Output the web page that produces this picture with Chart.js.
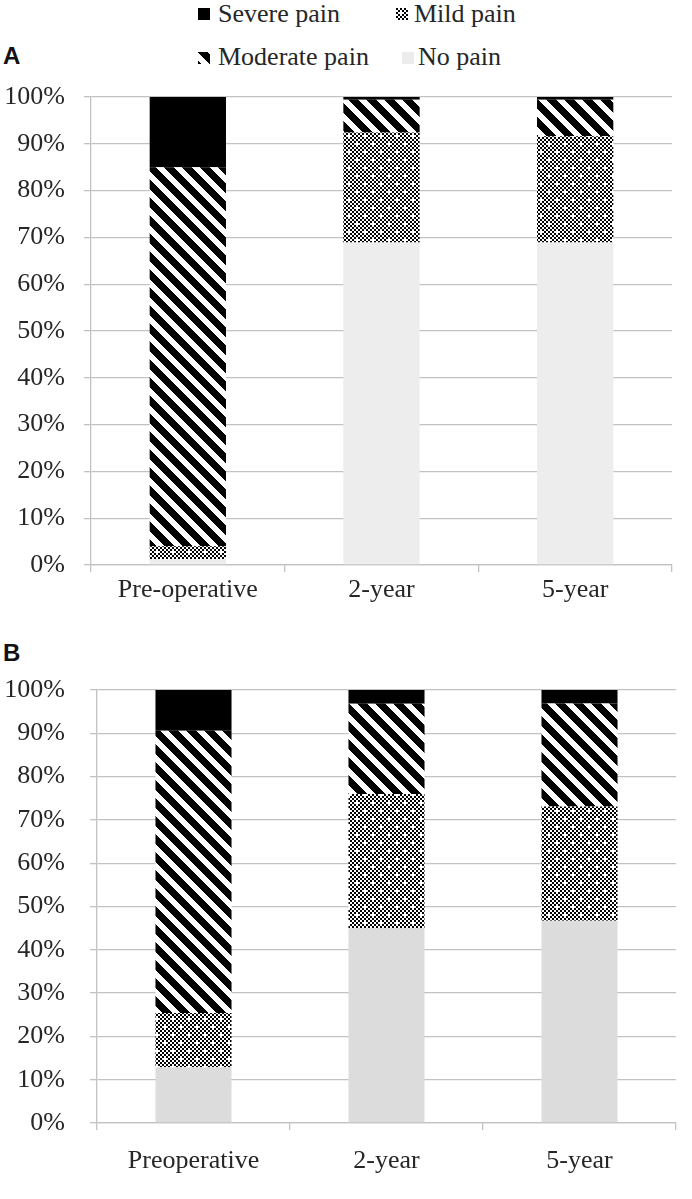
<!DOCTYPE html>
<html>
<head>
<meta charset="utf-8">
<script src="https://cdn.jsdelivr.net/npm/chart.js@4.4.1/dist/chart.umd.min.js"></script>
<style>
  body { margin: 0; background: #fff; }
  #page { position: relative; width: 692px; height: 1199px; overflow: hidden; font-family: "Liberation Serif", serif; color: #262626; }
  .panel { position: absolute; left: 3px; font: bold 24px/24px "Liberation Sans", Arial, sans-serif; color: #111; }
  .lg { position: absolute; font-size: 26px; line-height: 28px; white-space: nowrap; }
  .sw { position: absolute; width: 12px; height: 12px; }
  canvas.chart { position: absolute; left: 0; }
</style>
</head>
<body>
<div id="page">
  <canvas class="sw" id="swSevere" width="12" height="12" style="left:198px;top:8px"></canvas>
  <div class="lg" style="left:218px;top:0px">Severe pain</div>
  <canvas class="sw" id="swMild" width="12" height="12" style="left:396px;top:8px"></canvas>
  <div class="lg" style="left:414px;top:0px">Mild pain</div>
  <canvas class="sw" id="swModerate" width="12" height="12" style="left:198px;top:52px"></canvas>
  <div class="lg" style="left:218px;top:43px">Moderate pain</div>
  <canvas class="sw" id="swNone" width="12" height="12" style="left:402px;top:52px"></canvas>
  <div class="lg" style="left:418px;top:43px">No pain</div>

  <div class="panel" style="top:44px">A</div>
  <canvas class="chart" id="chartA" width="692" height="545" style="top:75px"></canvas>

  <div class="panel" style="top:641px">B</div>
  <canvas class="chart" id="chartB" width="692" height="529" style="top:670px"></canvas>
</div>

<script>
// data (percent of patients)
const categoriesA = ["Pre-operative", "2-year", "5-year"];
const categoriesB = ["Preoperative", "2-year", "5-year"];
const seriesNames = ["No pain", "Mild pain", "Moderate pain", "Severe pain"];

const noPainA = [1.3, 68.9, 68.9];
const mildA = [2.7, 23.5, 22.7];
const moderateA = [81.0, 7.0, 7.8];
const severeA = [15.0, 0.6, 0.6];

const noPainB = [12.9, 45.0, 46.7];
const mildB = [12.5, 31.0, 26.4];
const moderateB = [65.2, 20.8, 23.8];
const severeB = [9.4, 3.2, 3.1];

const yTicks = [0, 10, 20, 30, 40, 50, 60, 70, 80, 90, 100];

// fill patterns like the old excel hatch fills
function makeTile(size, isBlack) {
  const c = document.createElement("canvas");
  c.width = size;
  c.height = size;
  const g = c.getContext("2d");
  g.fillStyle = "#fff";
  g.fillRect(0, 0, size, size);
  g.fillStyle = "#000";
  for (let y = 0; y < size; y++) {
    for (let x = 0; x < size; x++) {
      if (isBlack(x, y)) g.fillRect(x, y, 1, 1);
    }
  }
  return c;
}

const stripeTile = makeTile(18, (x, y) => ((x - y) % 18 + 18) % 18 < 10);
const checkTile = makeTile(16, (x, y) => {
  const cx = x >> 1, cy = y >> 1;
  if ((cx === 2 && cy === 2) || (cx === 6 && cy === 6)) return false;
  return (cx + cy) % 2 === 0;
});

function patternFor(ctx, tile) {
  return ctx.createPattern(tile, "repeat");
}

// legend swatches
function paintSwatch(id, fill) {
  const g = document.getElementById(id).getContext("2d");
  g.fillStyle = typeof fill === "string" ? fill : g.createPattern(fill, "repeat");
  g.fillRect(0, 0, 12, 12);
}
paintSwatch("swSevere", "#000");
paintSwatch("swMild", checkTile);
paintSwatch("swModerate", stripeTile);
paintSwatch("swNone", "#ececec");

const tickFont = { family: "'Liberation Serif', serif", size: 26 };
const gridColor = "#c2c2c2";

function buildChart(id, labels, values, opts) {
  const ctx = document.getElementById(id).getContext("2d");
  const fills = [opts.gray, patternFor(ctx, checkTile), patternFor(ctx, stripeTile), "#000"];
  const datasets = values.map((v, i) => ({
    label: seriesNames[i],
    data: v,
    backgroundColor: fills[i],
    borderWidth: 0,
    barPercentage: 0.394,
    categoryPercentage: 1,
  }));

  return new Chart(ctx, {
    type: "bar",
    data: { labels: labels, datasets: datasets },
    options: {
      responsive: false,
      animation: false,
      devicePixelRatio: 1,
      layout: { padding: { top: opts.padTop, right: opts.padRight, left: 0, bottom: 0 } },
      plugins: { legend: { display: false }, tooltip: { enabled: false } },
      scales: {
        x: {
          stacked: true,
          afterFit: (s) => {
            s.height = opts.xHeight;
            s.paddingLeft = 0;
            s.paddingRight = 0;
          },
          grid: { offset: true, drawOnChartArea: false, drawTicks: true, tickLength: 7, color: gridColor, lineWidth: 1.3 },
          border: { display: true, color: gridColor, width: 1.3 },
          ticks: { font: tickFont, color: "#262626", padding: opts.xPad, maxRotation: 0, autoSkip: false },
        },
        y: {
          stacked: true,
          min: 0,
          max: 100,
          afterFit: (s) => {
            s.width = opts.yWidth;
            s.paddingTop = 0;
            s.paddingBottom = 0;
          },
          afterBuildTicks: (s) => { s.ticks = yTicks.map((v) => ({ value: v })); },
          grid: { color: gridColor, lineWidth: 1.3, tickLength: 7 },
          border: { display: true, color: gridColor, width: 1.3 },
          ticks: { font: tickFont, color: "#262626", padding: opts.yPad, callback: (v) => v + "%" },
        },
      },
    },
  });
}

buildChart("chartA", categoriesA, [noPainA, mildA, moderateA, severeA], {
  gray: "#ededed", padTop: 22, padRight: 20, xHeight: 55, yWidth: 91, xPad: 3, yPad: 19,
});

buildChart("chartB", categoriesB, [noPainB, mildB, moderateB, severeB], {
  gray: "#dcdcdc", padTop: 20, padRight: 16, xHeight: 76, yWidth: 97, xPad: 16, yPad: 25,
});
</script>
</body>
</html>
